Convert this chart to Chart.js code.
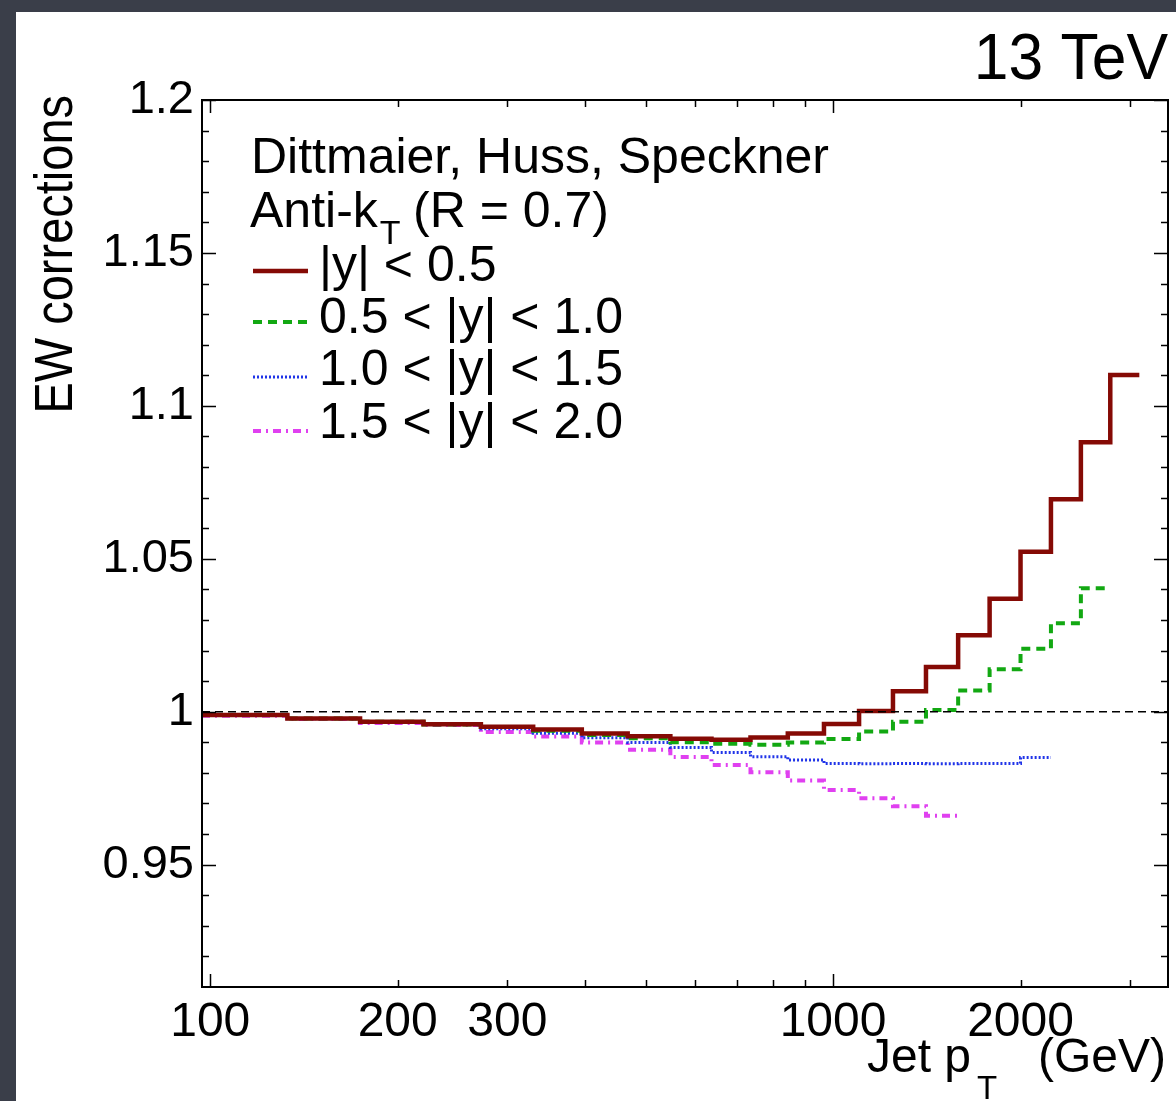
<!DOCTYPE html>
<html><head><meta charset="utf-8">
<script src="https://cdn.jsdelivr.net/npm/chart.js@4.4.1/dist/chart.umd.min.js"></script>
<style>
html,body{margin:0;padding:0;background:#3a3e49;width:1176px;height:1101px;overflow:hidden}
#panel{position:absolute;left:16px;top:12px;width:1160px;height:1089px;background:#fff}
canvas{display:block}
</style></head><body>
<div id="panel"><canvas id="c" width="1160" height="1089"></canvas></div>
<script>
// ---- data ----
const binEdges = [97,133,174,220,272,330,395,468,548,638,737,846,967,1101,1248,1410,1588,1784,2000,2238,2500,2787,3103];
const seriesLabels = ['|y| < 0.5','0.5 < |y| < 1.0','1.0 < |y| < 1.5','1.5 < |y| < 2.0'];
const ewY05 = [0.9989,0.9978,0.9967,0.9959,0.9951,0.9942,0.9929,0.9920,0.9912,0.9908,0.9916,0.9929,0.9960,1.0002,1.0067,1.0146,1.0250,1.0369,1.0523,1.0695,1.0881,1.1101];
const ewY10 = [0.9989,0.9978,0.9967,0.9958,0.9950,0.9938,0.9924,0.9913,0.9900,0.9895,0.9892,0.9899,0.9911,0.9935,0.9967,1.0006,1.0069,1.0139,1.0206,1.0289,1.0404];
const ewY15 = [0.9989,0.9977,0.9967,0.9958,0.9944,0.9930,0.9915,0.9899,0.9883,0.9867,0.9853,0.9842,0.9831,0.9830,0.9831,0.9830,0.9831,0.9831,0.9850];
const ewY20 = [0.9987,0.9976,0.9963,0.9957,0.9934,0.9919,0.9899,0.9876,0.9852,0.9826,0.9802,0.9775,0.9744,0.9717,0.9691,0.9660];
const refValue = 1.0;
const xRange = [97, 3450];
const yRange = [0.91, 1.2];
const xTickValues = [100,200,300,1000,2000];
const xTickLabels = ['100','200','300','1000','2000'];
const xMinorTicks = [400,500,600,700,800,900,3000];
const xDecadeTicks = [100,1000];
const yTickValues = [0.95,1.0,1.05,1.1,1.15,1.2];
const yTickLabels = ['0.95','1','1.05','1.1','1.15','1.2'];
const yMinorTicks = [0.92,0.93,0.94,0.96,0.97,0.98,0.99,1.01,1.02,1.03,1.04,1.06,1.07,1.08,1.09,1.11,1.12,1.13,1.14,1.16,1.17,1.18,1.19];

const FONT = '"Liberation Sans", Arial, Helvetica, sans-serif';

function histPoints(vals){
  const pts = vals.map((v,i)=>({x:binEdges[i], y:v}));
  pts.push({x:binEdges[vals.length], y:vals[vals.length-1]});
  return pts;
}

const styles = [
  {color:'#850a05', width:4.5, dash:[]},
  {color:'#12a812', width:4, dash:[9,6]},
  {color:'#2034e8', width:3, dash:[2,2]},
  {color:'#e040f0', width:4, dash:[8,5,2,5]}
];
const seriesValues = [ewY05, ewY10, ewY15, ewY20];

const datasets = seriesValues.map((vals,i)=>({
  label: seriesLabels[i],
  data: histPoints(vals),
  borderColor: styles[i].color,
  borderWidth: styles[i].width,
  borderDash: styles[i].dash,
  stepped: 'before',
  pointRadius: 0,
  fill: false,
  tension: 0,
  inLegend: true
}));
datasets.unshift({
  label: 'ref',
  data: [{x:xRange[0], y:refValue},{x:xRange[1], y:refValue}],
  borderColor:'#000', borderWidth:1.5, borderDash:[8,5], pointRadius:0, fill:false, inLegend:false
});

const decor = {
  id:'decor',
  afterDatasetsDraw(chart){
    const {ctx, chartArea:a, scales:{x,y}} = chart;
    ctx.save();
    ctx.strokeStyle = '#000';
    ctx.lineWidth = 1.5;
    ctx.setLineDash([]);
    ctx.beginPath();
    yTickValues.concat(yMinorTicks).forEach(v=>{
      const py = Math.round(y.getPixelForValue(v))+0.5;
      const len = yTickValues.includes(v) ? 14 : 7;
      ctx.moveTo(a.left, py); ctx.lineTo(a.left+len, py);
      ctx.moveTo(a.right, py); ctx.lineTo(a.right-len, py);
    });
    xTickValues.concat(xMinorTicks).forEach(v=>{
      const px = Math.round(x.getPixelForValue(v))+0.5;
      const len = xDecadeTicks.includes(v) ? 13 : 7;
      ctx.moveTo(px, a.bottom); ctx.lineTo(px, a.bottom-len);
      ctx.moveTo(px, a.top); ctx.lineTo(px, a.top+len);
    });
    ctx.stroke();
    ctx.lineWidth = 2;
    ctx.strokeRect(a.left, a.top, a.right-a.left, a.bottom-a.top);

    // texts
    ctx.fillStyle = '#000';
    ctx.textBaseline = 'alphabetic';
    // 13 TeV
    ctx.save();
    ctx.translate(1152, 67);
    ctx.scale(0.96, 1);
    ctx.font = '65px '+FONT;
    ctx.textAlign = 'right';
    ctx.fillText('13 TeV', 0, 0);
    ctx.restore();
    // y title
    ctx.save();
    ctx.translate(56, 83);
    ctx.rotate(-Math.PI/2);
    ctx.scale(0.87, 1);
    ctx.font = '54px '+FONT;
    ctx.textAlign = 'right';
    ctx.fillText('EW corrections', 0, 0);
    ctx.restore();
    // x title
    ctx.font = '48px '+FONT;
    ctx.textAlign = 'right';
    ctx.fillText('(GeV)', 1150, 1060);
    ctx.textAlign = 'left';
    ctx.fillText('Jet p', 851, 1060);
    const wp = ctx.measureText('Jet p').width;
    ctx.font = '33px '+FONT;
    ctx.fillText('T', 851+wp+6, 1087);

    // legend header
    ctx.font = '50px '+FONT;
    ctx.textAlign = 'left';
    ctx.fillText('Dittmaier, Huss, Speckner', 235, 161);
    ctx.fillText('Anti-k', 234, 215);
    const wa = ctx.measureText('Anti-k').width;
    ctx.font = '34px '+FONT;
    ctx.fillText('T', 234+wa+2, 232);
    ctx.font = '50px '+FONT;
    ctx.fillText('(R = 0.7)', 397, 215);
    // legend entries
    const rowsY = [259, 310, 365, 419];
    const rowsBase = [269, 321, 373, 426];
    let r = 0;
    chart.data.datasets.forEach(ds=>{
      if(!ds.inLegend) return;
      ctx.save();
      ctx.strokeStyle = ds.borderColor;
      ctx.lineWidth = ds.borderWidth;
      ctx.setLineDash(ds.borderDash || []);
      ctx.beginPath();
      ctx.moveTo(237, rowsY[r]); ctx.lineTo(292, rowsY[r]);
      ctx.stroke();
      ctx.restore();
      ctx.font = '50px '+FONT;
      ctx.fillText(ds.label, 303, rowsBase[r]);
      r++;
    });
    ctx.restore();
  }
};

new Chart(document.getElementById('c'), {
  type:'line',
  data:{datasets},
  options:{
    responsive:false,
    animation:false,
    devicePixelRatio:1,
    layout:{padding:{top:88, right:8, left:0, bottom:0}},
    plugins:{legend:{display:false}, tooltip:{enabled:false}},
    scales:{
      x:{
        type:'logarithmic', min:xRange[0], max:xRange[1],
        afterBuildTicks(s){ s.ticks = xTickValues.map(v=>({value:v})); },
        afterFit(s){ s.height = 114; },
        ticks:{
          autoSkip:false, maxRotation:0, minRotation:0, padding:7,
          color:'#000', font:{family:FONT, size:48},
          callback(v){ const i = xTickValues.indexOf(v); return i>=0 ? xTickLabels[i] : ''; }
        },
        grid:{display:false, drawTicks:false},
        border:{display:false}
      },
      y:{
        type:'linear', min:yRange[0], max:yRange[1],
        afterBuildTicks(s){ s.ticks = yTickValues.map(v=>({value:v})); },
        afterFit(s){ s.width = 186; },
        ticks:{
          autoSkip:false, padding:8,
          color:'#000', font:{family:FONT, size:47},
          callback(v){ const i = yTickValues.findIndex(t=>Math.abs(t-v)<1e-9); return i>=0 ? yTickLabels[i] : ''; }
        },
        grid:{display:false, drawTicks:false},
        border:{display:false}
      }
    }
  },
  plugins:[decor]
});
</script>
</body></html>
